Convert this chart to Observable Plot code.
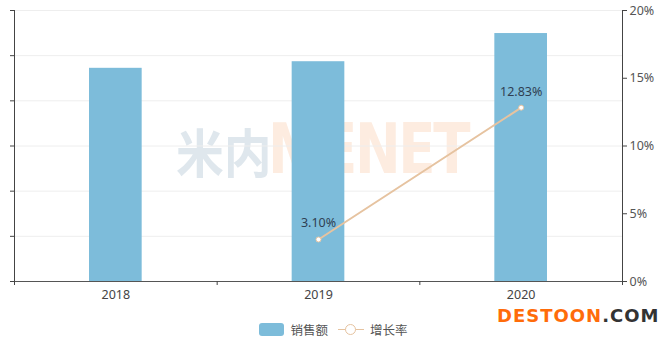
<!DOCTYPE html>
<html><head><meta charset="utf-8">
<script src="https://cdn.jsdelivr.net/npm/d3@7"></script>
<script src="https://cdn.jsdelivr.net/npm/@observablehq/plot@0.6"></script>
<style>
body{margin:0;background:#fff;font-family:"Noto Sans","Noto Sans CJK SC",sans-serif;}
#wrap{position:relative;width:667px;height:340px;overflow:hidden;}
#chart{position:relative;z-index:1;}
#legend{position:absolute;left:0;top:320px;width:667px;display:flex;justify-content:center;align-items:center;font-size:12.5px;color:#555;font-family:"Noto Sans CJK SC",sans-serif;}
.sw{display:inline-block;width:25px;height:13px;border-radius:3px;background:#7dbcda;margin-right:6px;}
.ln{position:relative;display:inline-block;width:26px;height:13px;margin:0 6px 0 10px;}
.ln:before{content:"";position:absolute;left:0;right:0;top:6px;border-top:1.5px solid #e6c3a0;}
.ln:after{content:"";position:absolute;left:7px;top:1px;width:9px;height:9px;border-radius:50%;border:1.5px solid #e6c3a0;background:#fff;}
#brand{position:absolute;left:497px;top:305px;font-family:"DejaVu Sans",sans-serif;font-weight:bold;font-size:18px;letter-spacing:1px;}
#wm{position:absolute;left:176px;top:108px;z-index:0;white-space:nowrap;pointer-events:none;}
#wm .cn{display:inline-block;font-family:"Noto Sans CJK SC";font-weight:bold;font-size:52px;color:#dfe7ed;transform:scaleX(0.92);transform-origin:left;width:92px;}
#wm .en{display:inline-block;font-family:"DejaVu Sans",sans-serif;font-weight:bold;font-size:70px;color:#fdece0;letter-spacing:-3px;transform:scaleX(0.78);transform-origin:left;}
</style></head><body>
<div id="wrap">
<div id="wm"><span class="cn">米内</span><span class="en">MENET</span></div>
<div id="chart"></div>
<div id="legend"><span class="sw"></span><span>销售额</span><span class="ln"></span><span>增长率</span></div>
<div id="brand"><span style="color:#ff6c0a;">DESTOON</span><span style="color:#333;">.COM</span></div>
</div>
<script>
const years = [2018, 2019, 2020];
const sales = [472, 486.6, 549];          // left axis (unlabelled) units
const growth = [null, 3.10, 12.83];        // percent
const leftTicks = [0, 100, 200, 300, 400, 500, 600];
const rightTicks = [0, 5, 10, 15, 20];
const salesMax = 600, pctMax = 20;
const k = salesMax / pctMax;

const bars = years.map((y, i) => ({year: y, sales: sales[i]}));
const line = years.map((y, i) => ({year: y, g: growth[i]})).filter(d => d.g != null);

const plot = Plot.plot({
  width: 667, height: 310,
  marginTop: 10, marginBottom: 29, marginLeft: 14, marginRight: 45,
  style: {fontFamily: '"Noto Sans","Noto Sans CJK SC",sans-serif', fontSize: "12px", color: "#555", background: "transparent"},
  x: {domain: [2017.5, 2020.5]},
  y: {domain: [0, salesMax]},
  marks: [
    Plot.ruleY(leftTicks.slice(1), {stroke: "#eee", strokeWidth: 1}),
    Plot.rectY(bars, {x1: d => d.year - 0.5, x2: d => d.year + 0.5, y: "sales", fill: "#7dbcda", insetLeft: 75, insetRight: 75}),
    Plot.ruleY([0], {stroke: "#555", strokeWidth: 1}),
    Plot.ruleX([2017.5, 2020.5], {stroke: "#444", strokeWidth: 1}),
    Plot.axisY({anchor: "left", ticks: leftTicks, tickFormat: () => "", tickSize: 4, stroke: "#444", label: null}),
    Plot.axisY({anchor: "right", ticks: rightTicks.map(v => v * k), tickFormat: d => Math.round(d / k) + "%", tickSize: 4, tickPadding: 3, stroke: "#444", fill: "#555", fontSize: 12.5, label: null}),
    Plot.axisX({ticks: [2017.5, 2018.5, 2019.5, 2020.5], tickFormat: () => "", tickSize: 4, stroke: "#444", label: null}),
    Plot.axisX({ticks: years, tickFormat: d => String(d), tickSize: 0, tickPadding: 9, fill: "#444", fontSize: 12.5, label: null}),
    Plot.line(line, {x: "year", y: d => d.g * k, stroke: "#e6c3a0", strokeWidth: 2}),
    Plot.dot(line, {x: "year", y: d => d.g * k, r: 2.5, fill: "#fff", stroke: "#e6c3a0", strokeWidth: 1}),
    Plot.text(line, {x: "year", y: d => d.g * k, text: d => d.g.toFixed(2) + "%", dy: -16, fill: "#2f3f52", fontSize: 12.5})
  ]
});
document.getElementById("chart").appendChild(plot);
</script>
</body></html>
